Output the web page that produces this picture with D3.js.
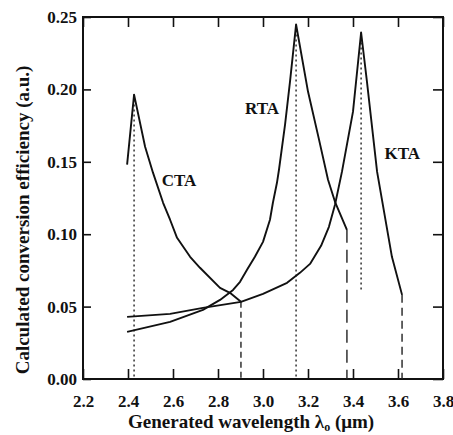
<!DOCTYPE html>
<html lang="en">
<head>
<meta charset="utf-8">
<title>Calculated conversion efficiency</title>
<script src="https://cdnjs.cloudflare.com/ajax/libs/d3/7.8.5/d3.min.js"></script>
<style>
  body { margin: 0; background: #fff; }
</style>
</head>
<body>
<script>
// curve data (wavelength in um, efficiency in a.u.)
var ctaWl  = [2.396, 2.427, 2.476, 2.511, 2.556, 2.587, 2.618, 2.676, 2.72, 2.809, 2.853, 2.902];
var ctaEff = [0.148, 0.1964, 0.1604, 0.1425, 0.1217, 0.110, 0.0975, 0.0844, 0.0768, 0.0629, 0.0595, 0.0533];

var rtaWl  = [2.396, 2.587, 2.733, 2.809, 2.867, 2.898, 2.929, 2.964, 3.0, 3.031, 3.044, 3.062, 3.071, 3.098, 3.12, 3.147, 3.2, 3.248, 3.289, 3.32, 3.373];
var rtaEff = [0.0325, 0.0394, 0.0477, 0.0546, 0.0615, 0.0671, 0.0754, 0.0844, 0.0947, 0.110, 0.1217, 0.1355, 0.1445, 0.1757, 0.2054, 0.2448, 0.1985, 0.166, 0.1376, 0.1224, 0.103];

var ktaWl  = [2.396, 2.587, 2.733, 2.902, 3.0, 3.107, 3.164, 3.209, 3.258, 3.293, 3.32, 3.351, 3.4, 3.436, 3.462, 3.507, 3.573, 3.618];
var ktaEff = [0.0429, 0.045, 0.0491, 0.0533, 0.0588, 0.0664, 0.0733, 0.0795, 0.092, 0.1051, 0.1203, 0.1432, 0.1846, 0.2393, 0.2054, 0.1432, 0.0844, 0.0581];

var curveNames = ["CTA", "RTA", "KTA"];
var labelWl  = [2.55, 2.92, 3.54];
var labelEff = [0.133, 0.183, 0.152];

// dotted lines at the peaks, dashed lines at the cut-off ends
var peakWl   = [2.427, 3.147, 3.436];
var peakTop  = [0.1964, 0.2448, 0.2393];
var peakLow  = [0, 0, 0.0615];
var cutWl    = [2.902, 3.373, 3.618];
var cutTop   = [0.0533, 0.103, 0.0581];

var xTicks = [2.2, 2.4, 2.6, 2.8, 3.0, 3.2, 3.4, 3.6, 3.8];
var yTicks = [0, 0.05, 0.10, 0.15, 0.20, 0.25];

var w = 453, h = 435;
var m = {left: 83, right: 10, top: 17, bottom: 56};
var serif = "'Liberation Serif', 'DejaVu Serif', serif";

var svg = d3.select("body").append("svg")
  .attr("width", w).attr("height", h);

var x = d3.scaleLinear().domain([2.2, 3.8]).range([m.left, w - m.right]);
var y = d3.scaleLinear().domain([0, 0.25]).range([h - m.bottom, m.top]);

function ax(g) {
  g.select(".domain").remove();
  g.selectAll(".tick line").attr("stroke", "#111").attr("stroke-width", 1.6);
  g.selectAll("text")
    .style("font-family", serif).style("font-weight", "bold")
    .style("font-size", "17px").style("fill", "#111");
}

// bottom axis (ticks inward)
svg.append("g")
  .attr("transform", "translate(0," + y(0) + ")")
  .call(d3.axisBottom(x).tickValues(xTicks).tickSize(-10).tickPadding(16).tickFormat(d3.format(".1f")))
  .call(ax);

// top axis (ticks only)
svg.append("g")
  .attr("transform", "translate(0," + y(0.25) + ")")
  .call(d3.axisTop(x).tickValues(xTicks).tickSize(-10).tickFormat(""))
  .call(ax);

// left axis
svg.append("g")
  .attr("transform", "translate(" + x(2.2) + ",0)")
  .call(d3.axisLeft(y).tickValues(yTicks).tickSize(-8).tickPadding(6).tickFormat(d3.format(".2f")))
  .call(ax);

// right axis (ticks only)
svg.append("g")
  .attr("transform", "translate(" + x(3.8) + ",0)")
  .call(d3.axisRight(y).tickValues(yTicks).tickSize(-10).tickFormat(""))
  .call(ax);

// frame
svg.append("rect")
  .attr("x", x(2.2)).attr("y", y(0.25))
  .attr("width", x(3.8) - x(2.2)).attr("height", y(0) - y(0.25))
  .attr("fill", "none").attr("stroke", "#111").attr("stroke-width", 2);

// peak markers
svg.selectAll(".peak").data(peakWl).enter().append("line")
  .attr("class", "peak")
  .attr("x1", function(d) { return x(d); }).attr("x2", function(d) { return x(d); })
  .attr("y1", function(d, i) { return y(peakTop[i]); })
  .attr("y2", function(d, i) { return y(peakLow[i]); })
  .attr("stroke", "#222").attr("stroke-width", 1.4).attr("stroke-dasharray", "2,3");

// cut-off markers
var cutDash = ["6,4", "13,7", "8,5"];
svg.selectAll(".cut").data(cutWl).enter().append("line")
  .attr("class", "cut")
  .attr("x1", function(d) { return x(d); }).attr("x2", function(d) { return x(d); })
  .attr("y1", function(d, i) { return y(cutTop[i]); })
  .attr("y2", y(0))
  .attr("stroke", "#222").attr("stroke-width", 1.4)
  .attr("stroke-dasharray", function(d, i) { return cutDash[i]; });

// curves
var line = d3.line()
  .x(function(d) { return x(d[0]); })
  .y(function(d) { return y(d[1]); });

var curves = [d3.zip(ctaWl, ctaEff), d3.zip(rtaWl, rtaEff), d3.zip(ktaWl, ktaEff)];
svg.selectAll(".curve").data(curves).enter().append("path")
  .attr("class", "curve")
  .attr("d", line)
  .attr("fill", "none").attr("stroke", "#111").attr("stroke-width", 1.9)
  .attr("stroke-linejoin", "round");

// curve labels
svg.selectAll(".lbl").data(curveNames).enter().append("text")
  .attr("class", "lbl")
  .attr("x", function(d, i) { return x(labelWl[i]); })
  .attr("y", function(d, i) { return y(labelEff[i]); })
  .style("font-family", serif).style("font-weight", "bold")
  .style("font-size", "17px").style("fill", "#111")
  .text(function(d) { return d; });

// axis titles
var xt = svg.append("text")
  .attr("x", 128).attr("y", 428)
  .style("font-family", serif).style("font-weight", "bold")
  .style("font-size", "19px").style("fill", "#111");
xt.append("tspan").text("Generated wavelength \u03bb");
xt.append("tspan").style("font-size", "12px").attr("dy", 3).text("o");
xt.append("tspan").attr("dy", -3).text(" (\u03bcm)");

svg.append("text")
  .attr("transform", "translate(29,220) rotate(-90)")
  .attr("text-anchor", "middle")
  .style("font-family", serif).style("font-weight", "bold")
  .style("font-size", "19px").style("fill", "#111")
  .text("Calculated conversion efficiency (a.u.)");
</script>
</body>
</html>
